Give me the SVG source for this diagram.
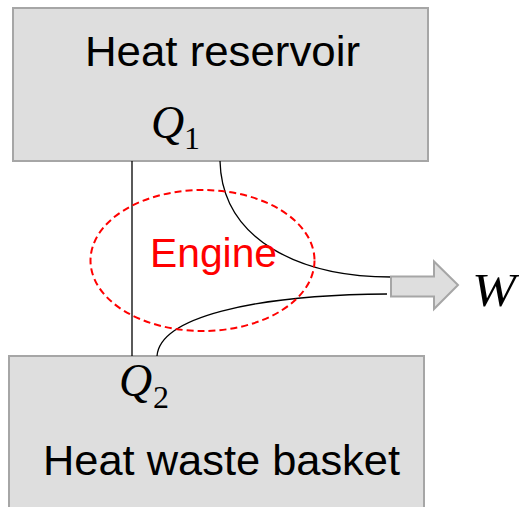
<svg xmlns="http://www.w3.org/2000/svg" width="519" height="507" viewBox="0 0 519 507">
<style>
.box{fill:#dedede;stroke:#a6a6a6;stroke-width:2}
.lbl{font-family:"Liberation Sans",Arial,sans-serif;font-size:42px;fill:#000}
.math{font-family:"Liberation Serif","DejaVu Serif",serif;font-size:46px;fill:#000}
.sub{font-family:"Liberation Serif","DejaVu Serif",serif;font-size:32px;font-style:normal}
.con{fill:none;stroke:#000;stroke-width:1.3}
</style>
<rect width="519" height="507" fill="#fff"/>
<g id="heat-reservoir">
<rect class="box" x="13" y="8" width="415" height="153"/>
<text class="lbl" x="85" y="66" textLength="275" lengthAdjust="spacingAndGlyphs">Heat reservoir</text>
<text class="math" x="151" y="138"><tspan font-style="italic">Q</tspan><tspan class="sub" x="184" y="149">1</tspan></text>
</g>
<g id="heat-waste-basket">
<rect class="box" x="9" y="356" width="415" height="165"/>
<text class="lbl" x="43" y="475" textLength="357" lengthAdjust="spacingAndGlyphs">Heat waste basket</text>
<text class="math" x="119" y="396"><tspan font-style="italic">Q</tspan><tspan class="sub" x="153" y="408">2</tspan></text>
</g>
<g id="connectors">
<line class="con" x1="132" y1="161" x2="132" y2="356"/>
<path class="con" d="M220 161 C222 240,300 277,391 277"/>
<path class="con" d="M157 356 C160 318,250 295,387 294"/>
</g>
<g id="engine">
<ellipse cx="202.5" cy="260.5" rx="112" ry="70.5" fill="none" stroke="#ff0000" stroke-width="2" stroke-dasharray="7,4"/>
<text x="150" y="267" font-family="Liberation Sans,Arial,sans-serif" font-size="41" fill="#ff0000" textLength="127" lengthAdjust="spacingAndGlyphs">Engine</text>
</g>
<g id="work-arrow">
<polygon points="391,276.5 434,276.5 434,261.5 458,285 434,309 434,296.5 391,296.5" fill="#dedede" stroke="#a6a6a6" stroke-width="2"/>
<text class="math" x="472" y="306" font-size="47" font-style="italic" textLength="44" lengthAdjust="spacingAndGlyphs">W</text>
</g>
</svg>
